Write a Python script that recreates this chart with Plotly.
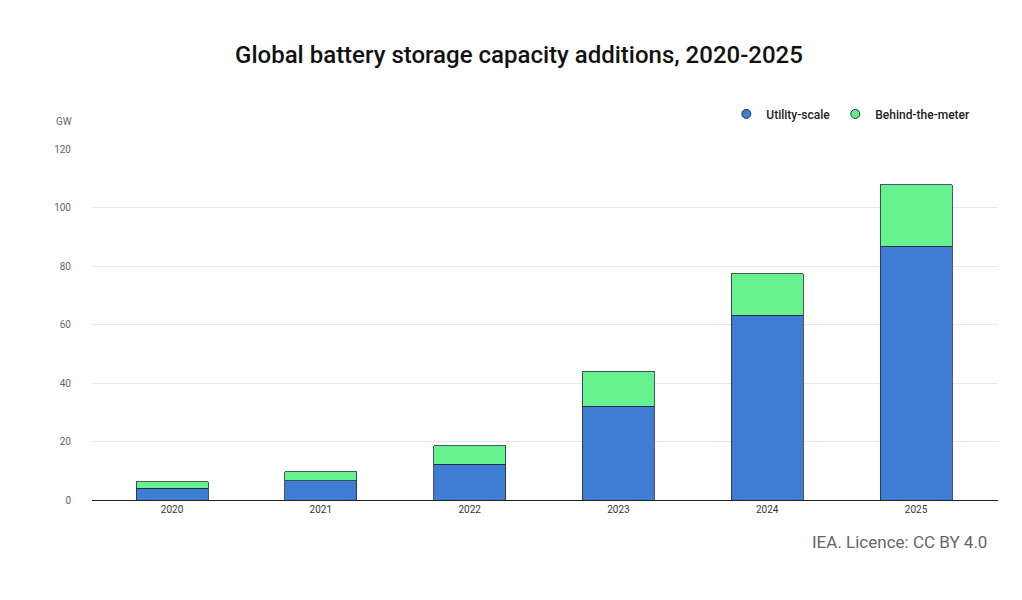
import plotly.graph_objects as go

years = ["2020", "2021", "2022", "2023", "2024", "2025"]
utility = [4.1, 6.5, 12.3, 32.1, 63.2, 86.8]
btm = [2.1, 3.1, 6.2, 12.0, 14.1, 20.9]
names = ["Utility-scale", "Behind-the-meter"]
colors = ["#3f7cd4", "#66f28e"]

fig = go.Figure()
for vals, nm, c in zip([utility, btm], names, colors):
    fig.add_trace(go.Bar(x=years, y=vals, name=nm, showlegend=False,
                         marker=dict(color=c, line=dict(color="#1f2d3d", width=0.8))))
for nm, c in zip(names, colors):
    fig.add_trace(go.Scatter(x=[None], y=[None], mode="markers", name=nm,
                             marker=dict(symbol="circle", size=9, color=c,
                                         line=dict(color="#1f2d3d", width=1))))
fig.update_layout(
    barmode="stack", bargap=0.516,
    width=1022, height=600, plot_bgcolor="white", paper_bgcolor="white",
    font=dict(family="Roboto", color="#333"),
    title=dict(text="Global battery storage capacity additions, 2020-2025", x=0.5, xanchor="center",
               y=0.922, yanchor="middle", font=dict(size=24, color="#111", family="Roboto", weight=500)),
    margin=dict(l=84, r=32, t=141, b=108),
    legend=dict(orientation="h", traceorder="normal", x=0.975, xanchor="right", y=1.1, yanchor="middle",
                font=dict(size=12, color="#222", weight=500), itemwidth=30),
    xaxis=dict(showline=True, linecolor="#222", linewidth=1, tickfont=dict(size=10, color="#333"),
               ticks="", range=[-0.538, 5.551]),
    yaxis=dict(range=[0, 120], dtick=20, gridcolor="#e8e8e8", zeroline=False,
               tickfont=dict(size=10, color="#666"), ticklabelstandoff=20),
    annotations=[
        dict(text="GW", xref="paper", yref="paper", x=-0.042, y=1.1, showarrow=False,
             font=dict(size=10, color="#666"), xanchor="left"),
        dict(text="IEA. Licence: CC BY 4.0", xref="paper", yref="paper", x=0.99, y=-0.155,
             showarrow=False, xanchor="right", font=dict(size=17, color="#666")),
    ],
)
fig.write_html("out.html")
